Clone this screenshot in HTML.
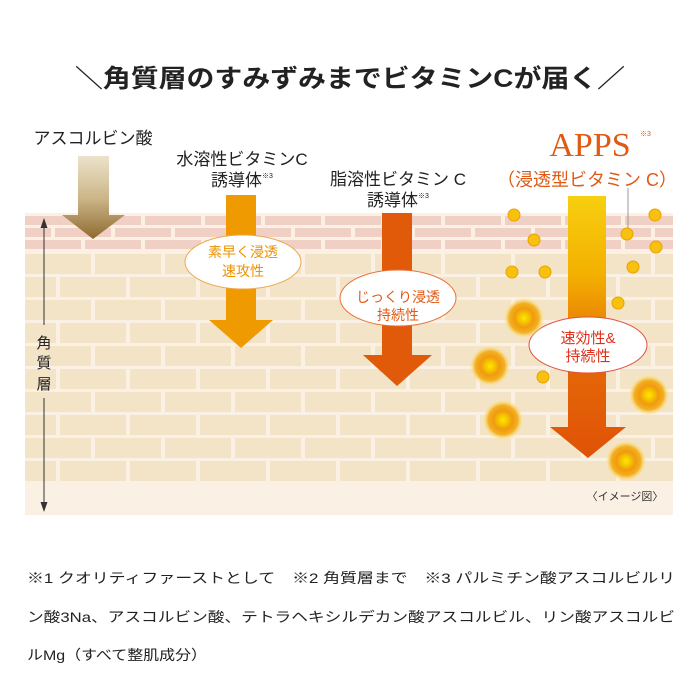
<!DOCTYPE html>
<html><head><meta charset="utf-8"><style>
html,body{margin:0;padding:0;background:#fff;}
svg{display:block;}
text{font-family:"Liberation Sans","Noto Sans CJK JP",sans-serif;}
</style></head><body>
<svg width="700" height="700" viewBox="0 0 700 700" xmlns="http://www.w3.org/2000/svg">
<defs>
<linearGradient id="skin" x1="0" y1="0" x2="0" y2="1">
<stop offset="0" stop-color="#fff" stop-opacity="0"/><stop offset="1" stop-color="#fbeee2"/></linearGradient>
<linearGradient id="brown" x1="0" y1="0" x2="0" y2="1">
<stop offset="0" stop-color="#ece3cc"/><stop offset="0.5" stop-color="#cdb78a"/><stop offset="1" stop-color="#8f6a30"/></linearGradient>
<linearGradient id="apps" x1="0" y1="0" x2="0" y2="1">
<stop offset="0" stop-color="#f7cf10"/><stop offset="0.3" stop-color="#f3b000"/><stop offset="0.6" stop-color="#e56a08"/><stop offset="1" stop-color="#e05206"/></linearGradient>
<radialGradient id="glow">
<stop offset="0" stop-color="#ffe800"/><stop offset="0.25" stop-color="#f5c000"/><stop offset="0.45" stop-color="#f09a10"/><stop offset="0.7" stop-color="#f3b020"/><stop offset="1" stop-color="#fff3a0" stop-opacity="0"/></radialGradient>
<pattern id="pink" x="25" y="215" width="120" height="36" patternUnits="userSpaceOnUse">
<rect x="0" y="1" width="56" height="9" fill="#f0cfc4"/><rect x="60" y="1" width="56" height="9" fill="#f0cfc4"/>
<rect x="0" y="13" width="26" height="9" fill="#f0cfc4"/><rect x="30" y="13" width="56" height="9" fill="#f0cfc4"/><rect x="90" y="13" width="30" height="9" fill="#f0cfc4"/>
<rect x="0" y="25" width="56" height="9" fill="#f0cfc4"/><rect x="60" y="25" width="56" height="9" fill="#f0cfc4"/>
</pattern>
<pattern id="beige" x="25" y="253" width="140" height="46" patternUnits="userSpaceOnUse">
<rect x="0" y="1" width="66" height="20" fill="#f3e4c8"/><rect x="70" y="1" width="66" height="20" fill="#f3e4c8"/>
<rect x="0" y="24" width="31" height="20" fill="#f3e4c8"/><rect x="35" y="24" width="66" height="20" fill="#f3e4c8"/><rect x="105" y="24" width="35" height="20" fill="#f3e4c8"/>
</pattern>
</defs>
<rect width="700" height="700" fill="#fff"/>
<rect x="25" y="195" width="648" height="320" fill="url(#skin)"/>
<rect x="25" y="213" width="648" height="300" fill="#fbf0e4"/>
<rect x="25" y="215" width="648" height="36" fill="url(#pink)"/>
<rect x="25" y="253" width="648" height="230" fill="url(#beige)"/>

<text x="350" y="87" font-size="25" font-weight="bold" text-anchor="middle" fill="#222" textLength="550" lengthAdjust="spacingAndGlyphs">＼角質層のすみずみまでビタミンCが届く／</text>

<line x1="44" y1="222" x2="44" y2="325" stroke="#333" stroke-width="1"/>
<line x1="44" y1="398" x2="44" y2="508" stroke="#333" stroke-width="1"/>
<path d="M40.5 228 L44 218 L47.5 228Z M40.5 502 L44 512 L47.5 502Z" fill="#333"/>
<text x="44" y="348" font-size="15" text-anchor="middle" fill="#222">角</text>
<text x="44" y="368" font-size="15" text-anchor="middle" fill="#222">質</text>
<text x="44" y="389" font-size="15" text-anchor="middle" fill="#222">層</text>

<text x="93" y="144" font-size="17" text-anchor="middle" fill="#222">アスコルビン酸</text>
<text x="242" y="165" font-size="17" text-anchor="middle" fill="#222">水溶性ビタミンC</text>
<text x="242" y="186" font-size="17" text-anchor="middle" fill="#222">誘導体<tspan font-size="7" dy="-8">※3</tspan></text>
<text x="398" y="185" font-size="17" text-anchor="middle" fill="#222">脂溶性ビタミン C</text>
<text x="398" y="206" font-size="17" text-anchor="middle" fill="#222">誘導体<tspan font-size="7" dy="-8">※3</tspan></text>
<text x="590" y="156" font-size="34" text-anchor="middle" fill="#e05a14" style="font-family:'Liberation Serif',serif">APPS</text>
<text x="640" y="136" font-size="7" fill="#e05a14">※3</text>
<text x="587" y="186" font-size="18" text-anchor="middle" fill="#e05a14">（浸透型ビタミン C）</text>
<line x1="628" y1="188" x2="628" y2="232" stroke="#999" stroke-width="1"/>

<path d="M78 156 H109 V215 H125 L93 239 L62 215 H78Z" fill="url(#brown)"/>
<path d="M226 195 H256 V320 H273 L241 348 L209 320 H226Z" fill="#ee9a00"/>
<path d="M382 213 H412 V355 H432 L397 386 L363 355 H382Z" fill="#e05a0a"/>
<path d="M568 196 H606 V427 H626 L588 458 L550 427 H568Z" fill="url(#apps)"/>

<ellipse cx="243" cy="262" rx="58" ry="27" fill="#fff" stroke="#efa84a" stroke-width="1"/>
<text x="243" y="257" font-size="14" text-anchor="middle" fill="#eb9200">素早く浸透</text>
<text x="243" y="276" font-size="14" text-anchor="middle" fill="#eb9200">速攻性</text>
<ellipse cx="398" cy="298" rx="58" ry="28" fill="#fff" stroke="#e8703a" stroke-width="1"/>
<text x="398" y="302" font-size="14" text-anchor="middle" fill="#e05a14">じっくり浸透</text>
<text x="398" y="320" font-size="14" text-anchor="middle" fill="#e05a14">持続性</text>
<ellipse cx="588" cy="345" rx="59" ry="28" fill="#fff" stroke="#e05040" stroke-width="1"/>
<text x="588" y="343" font-size="15" text-anchor="middle" fill="#e0301c">速効性&amp;</text>
<text x="588" y="361" font-size="15" text-anchor="middle" fill="#e0301c">持続性</text>

<g fill="#f7c20e" stroke="#eea000" stroke-width="1">
<circle cx="514" cy="215" r="6"/><circle cx="534" cy="240" r="6"/><circle cx="512" cy="272" r="6"/><circle cx="545" cy="272" r="6"/>
<circle cx="655" cy="215" r="6"/><circle cx="627" cy="234" r="6"/><circle cx="656" cy="247" r="6"/><circle cx="633" cy="267" r="6"/>
<circle cx="618" cy="303" r="6"/><circle cx="543" cy="377" r="6"/>
</g>
<g fill="url(#glow)">
<circle cx="524" cy="318" r="21"/><circle cx="490" cy="366" r="21"/><circle cx="503" cy="420" r="21"/><circle cx="649" cy="395" r="21"/><circle cx="626" cy="461" r="21"/>
</g>
<text x="625" y="500" font-size="11" text-anchor="middle" fill="#333">〈イメージ図〉</text>

<text x="27" y="583" font-size="14" fill="#222" textLength="648" lengthAdjust="spacingAndGlyphs">※1 クオリティファーストとして　※2 角質層まで　※3 パルミチン酸アスコルビルリ</text>
<text x="27" y="622" font-size="14" fill="#222" textLength="648" lengthAdjust="spacingAndGlyphs">ン酸3Na、アスコルビン酸、テトラヘキシルデカン酸アスコルビル、リン酸アスコルビ</text>
<text x="27" y="660" font-size="14" fill="#222" textLength="180" lengthAdjust="spacingAndGlyphs">ルMg（すべて整肌成分）</text>
</svg>
</body></html>
